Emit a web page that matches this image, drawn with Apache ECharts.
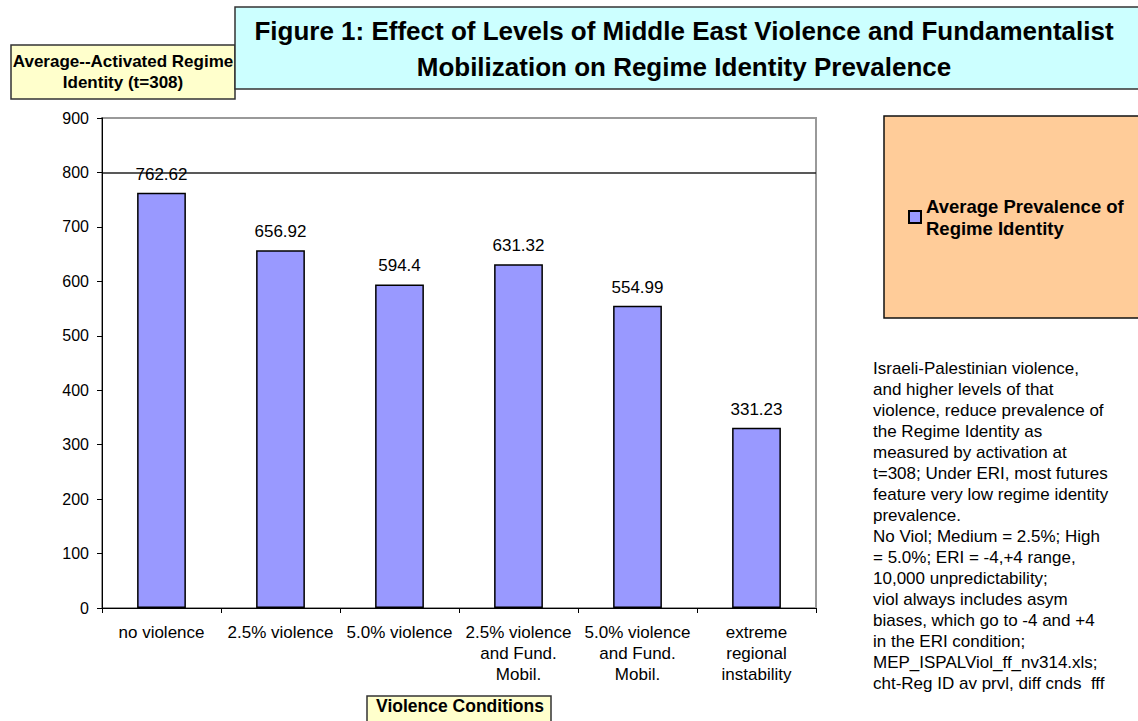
<!DOCTYPE html>
<html>
<head>
<meta charset="utf-8">
<script src="https://cdn.jsdelivr.net/npm/echarts@6/dist/echarts.min.js"></script>
<style>
html,body{margin:0;padding:0;background:#fff;}
#chart{width:1138px;height:721px;}
</style>
</head>
<body>
<div id="chart"></div>
<script>
const categories = [
  'no violence',
  '2.5% violence',
  '5.0% violence',
  '2.5% violence\nand Fund.\nMobil.',
  '5.0% violence\nand Fund.\nMobil.',
  'extreme\nregional\ninstability'
];
const seriesName = 'Average Prevalence of Regime Identity';
const values = [762.62, 656.92, 594.4, 631.32, 554.99, 331.23];
const titleLines = [
  'Figure 1: Effect of Levels of Middle East Violence and Fundamentalist',
  'Mobilization on Regime Identity Prevalence'
];
const yAxisTitle = ['Average--Activated Regime', 'Identity (t=308)'];
const xAxisTitle = 'Violence Conditions';
const noteLines = [
  'Israeli-Palestinian violence,',
  'and higher levels of that',
  'violence, reduce prevalence of',
  'the Regime Identity as',
  'measured by activation at',
  't=308; Under ERI, most futures',
  'feature very low regime identity',
  'prevalence.',
  'No Viol; Medium = 2.5%; High',
  '= 5.0%; ERI = -4,+4 range,',
  '10,000 unpredictability;',
  'viol always includes asym',
  'biases, which go to -4 and +4',
  'in the ERI condition;',
  'MEP_ISPALViol_ff_nv314.xls;',
  'cht-Reg ID av prvl, diff cnds  fff'
];

const FONT = '"Liberation Sans", Arial, Helvetica, sans-serif';
const chart = echarts.init(document.getElementById('chart'), null, {renderer: 'svg'});

chart.setOption({
  backgroundColor: '#ffffff',
  animation: false,
  textStyle: {fontFamily: FONT, color: '#000'},
  grid: {
    left: 102, right: 322, top: 118, bottom: 113,
    show: true, borderColor: '#999', borderWidth: 2, backgroundColor: '#fff'
  },
  legend: {
    show: true,
    left: 884, top: 116,
    padding: [79, 80, 79, 24],
    backgroundColor: '#FFCC99',
    borderColor: '#111', borderWidth: 1.5,
    itemWidth: 12, itemHeight: 12,
    icon: 'rect',
    formatter: function () { return 'Average Prevalence of\nRegime Identity'; },
    textStyle: {fontFamily: FONT, fontSize: 18.5, fontWeight: 'bold', color: '#000', lineHeight: 22},
    data: [seriesName]
  },
  xAxis: {
    type: 'category',
    data: categories,
    axisLine: {lineStyle: {color: '#000', width: 1}},
    axisTick: {show: true, length: 5, lineStyle: {color: '#000'}},
    axisLabel: {interval: 0, fontSize: 17, lineHeight: 21, margin: 14, color: '#000', fontFamily: FONT}
  },
  yAxis: {
    type: 'value',
    min: 0, max: 900, interval: 100,
    axisLine: {show: true, lineStyle: {color: '#000', width: 1}},
    axisTick: {show: true, length: 5, lineStyle: {color: '#000'}},
    axisLabel: {fontSize: 16, margin: 13, color: '#000', fontFamily: FONT},
    splitLine: {
      show: true,
      lineStyle: {color: ['rgba(0,0,0,0)','rgba(0,0,0,0)','rgba(0,0,0,0)','rgba(0,0,0,0)','rgba(0,0,0,0)','rgba(0,0,0,0)','rgba(0,0,0,0)','rgba(0,0,0,0)','#222','rgba(0,0,0,0)'], width: 1.5}
    }
  },
  series: [{
    name: seriesName,
    type: 'bar',
    data: values,
    barWidth: '41%',
    itemStyle: {color: '#9999FF', borderColor: '#000', borderWidth: 1.5},
    label: {show: true, position: 'top', distance: 10, fontSize: 17, color: '#000', fontFamily: FONT}
  }],
  graphic: [
    {type: 'rect', shape: {x: 11, y: 45, width: 224, height: 54},
     style: {fill: '#FFFFCC', stroke: '#333', lineWidth: 1.5}, z: 10},
    {type: 'text', x: 123, y: 72, z: 11,
     style: {text: yAxisTitle.join('\n'), fill: '#000', font: 'bold 17px ' + FONT,
             textAlign: 'center', textVerticalAlign: 'middle', lineHeight: 21}},
    {type: 'rect', shape: {x: 235, y: 7, width: 910, height: 82},
     style: {fill: '#CCFFFF', stroke: '#333', lineWidth: 1.5}, z: 12},
    {type: 'text', x: 684, y: 49, z: 13,
     style: {text: titleLines.join('\n'), fill: '#000', font: 'bold 26px ' + FONT,
             textAlign: 'center', textVerticalAlign: 'middle', lineHeight: 36}},
    {type: 'rect', shape: {x: 367, y: 696, width: 184, height: 32},
     style: {fill: '#FFFFCC', stroke: '#333', lineWidth: 1.5}, z: 10},
    {type: 'text', x: 460, y: 706, z: 11,
     style: {text: xAxisTitle, fill: '#000', font: 'bold 17.5px ' + FONT,
             textAlign: 'center', textVerticalAlign: 'middle'}},
    {type: 'text', x: 873, y: 357.5, z: 11,
     style: {text: noteLines.join('\n'), fill: '#000', font: '17px ' + FONT,
             textAlign: 'left', textVerticalAlign: 'top', lineHeight: 21}}
  ]
});
</script>
</body>
</html>
